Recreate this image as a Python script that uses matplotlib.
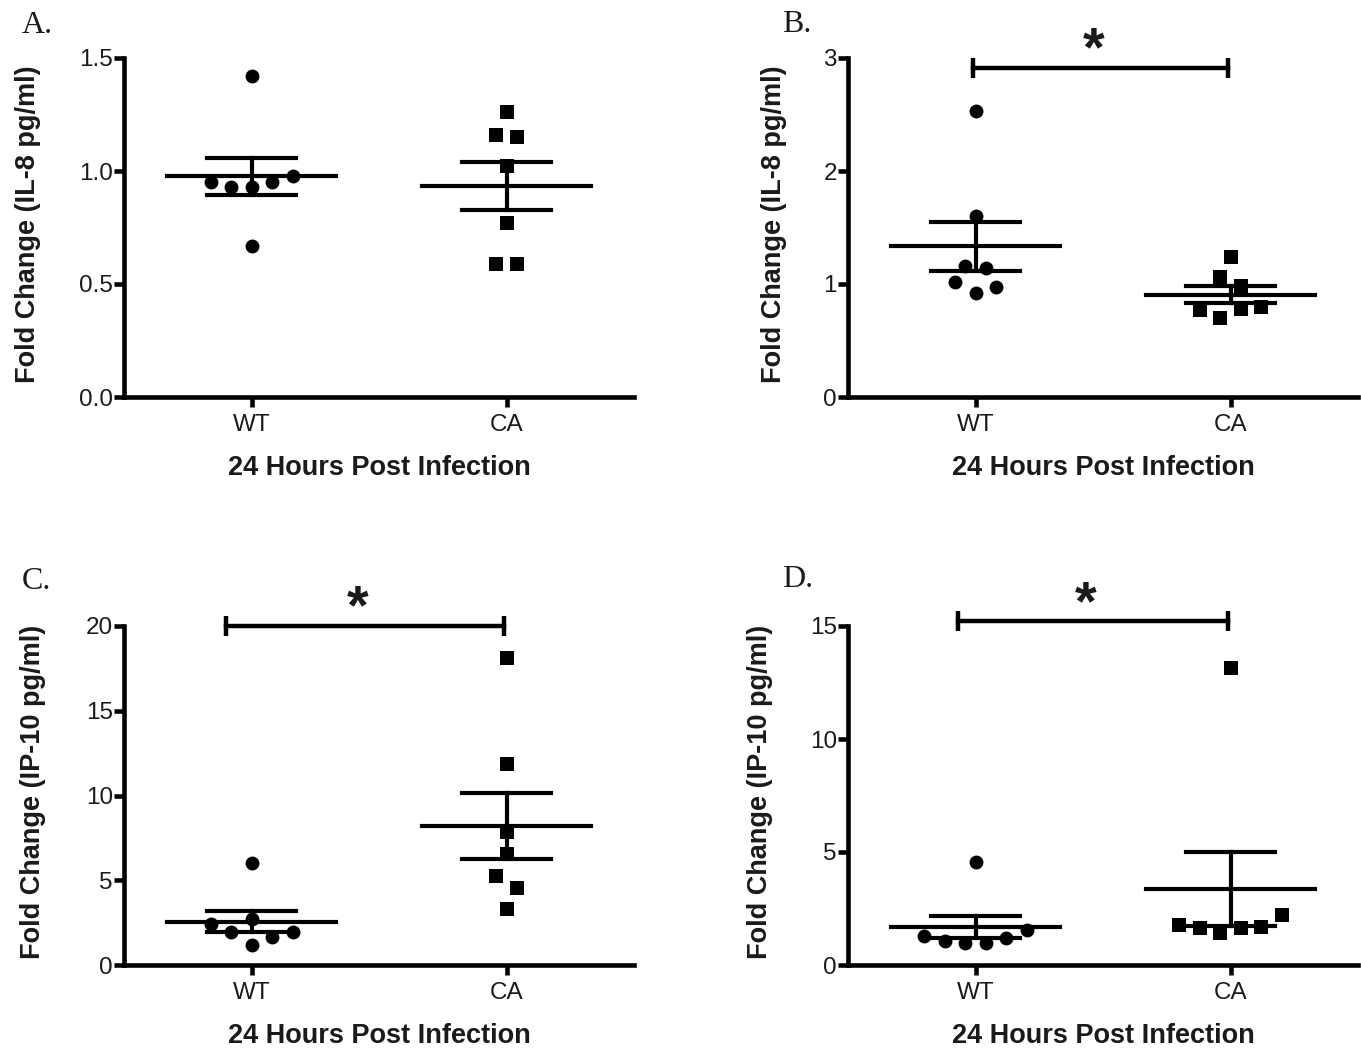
import numpy as np
import matplotlib
matplotlib.use("Agg")
import matplotlib.pyplot as plt

# values (fold change, 24 h post infection)
groups = ["WT", "CA"]
il8_a_wt = [1.42, 0.95, 0.93, 0.93, 0.95, 0.98, 0.67]
il8_a_ca = [1.26, 1.16, 1.15, 1.02, 0.77, 0.59, 0.59]
il8_b_wt = [2.53, 1.60, 1.16, 1.14, 1.02, 0.92, 0.97]
il8_b_ca = [1.24, 1.06, 0.98, 0.77, 0.70, 0.78, 0.80]
ip10_c_wt = [6.02, 2.70, 1.18, 1.95, 1.66, 2.41, 1.97]
ip10_c_ca = [18.09, 11.88, 7.83, 6.55, 5.27, 4.54, 3.30]
ip10_d_wt = [4.55, 1.30, 1.05, 0.98, 0.98, 1.20, 1.57]
ip10_d_ca = [13.16, 1.78, 1.63, 1.41, 1.63, 1.66, 2.21]

letters = ["A.", "B.", "C.", "D."]
ylabels = ["Fold Change (IL-8 pg/ml)", "Fold Change (IL-8 pg/ml)",
           "Fold Change (IP-10 pg/ml)", "Fold Change (IP-10 pg/ml)"]
yticks = [[0.0, 0.5, 1.0, 1.5], [0, 1, 2, 3], [0, 5, 10, 15, 20], [0, 5, 10, 15]]
ytick_fmt = ["{:.1f}", "{:d}", "{:d}", "{:d}"]
sig_bars = [None, (-0.01, 0.99, 2.91), (-0.1, 0.99, 20.0), (-0.07, 0.99, 15.2)]

W, H = 1361, 1053
fig = plt.figure(figsize=(W / 100, H / 100), dpi=100)

sans = ["Liberation Sans", "DejaVu Sans"]
serif = ["Liberation Serif", "DejaVu Serif"]
ink = "#1a1a1a"


def add_axes_px(left, top, w, h):
    return fig.add_axes([left / W, 1 - (top + h) / H, w / W, h / H])


def swarm(ax, vals, gap=13, row_span=20, d=15, step_px=20.5):
    # simple column-scatter layout: points close in y go side by side
    y = np.asarray(vals, float)
    py = ax.transData.transform(np.column_stack([np.zeros_like(y), y]))[:, 1]
    xs = ax.transData.transform([(0, 0), (1, 0)])[:, 0]
    step = step_px / (xs[1] - xs[0])
    order = np.argsort(-py, kind="stable")
    clusters, cur = [], [order[0]]
    for a, b in zip(order[:-1], order[1:]):
        if py[a] - py[b] < gap:
            cur.append(b)
        else:
            clusters.append(cur)
            cur = [b]
    clusters.append(cur)
    off = np.zeros(len(y))
    for c in clusters:
        c = sorted(c)
        if py[c].max() - py[c].min() <= row_span:
            off[c] = np.arange(len(c)) - (len(c) - 1) / 2
        else:
            placed = []
            for i in c:
                for k in [0, -1, 1, -2, 2, -3, 3, -4, 4]:
                    if all(not (off[j] == k and abs(py[j] - py[i]) < d) for j in placed):
                        break
                off[i] = k
                placed.append(i)
            off[c] -= (off[c].max() + off[c].min()) / 2
    return off * step


data = [(il8_a_wt, il8_a_ca), (il8_b_wt, il8_b_ca),
        (ip10_c_wt, ip10_c_ca), (ip10_d_wt, ip10_d_ca)]
boxes = [(124, 58), (848, 58), (124, 626), (848, 626)]
letter_pos = [(22, 33), (782, 32), (22, 589), (782, 587)]
ylabel_x = [-0.163, -0.12, -0.153, -0.148]

for k in range(4):
    left, top = boxes[k]
    ax = add_axes_px(left, top, 510, 339)
    ax.set_xlim(-0.5, 1.5)
    ax.set_ylim(yticks[k][0], yticks[k][-1])

    for gi, vals in enumerate(data[k]):
        off = swarm(ax, vals)
        ax.plot(gi + off, vals, linestyle="none", marker="o" if gi == 0 else "s",
                markersize=10, color="black", markeredgewidth=0, zorder=3,
                clip_on=False)
        m = np.mean(vals)
        se = np.std(vals, ddof=1) / np.sqrt(len(vals))
        ax.plot([gi - 0.333, gi + 0.333], [m, m], color="black", lw=3, zorder=4)
        ax.plot([gi, gi], [m - se, m + se], color="black", lw=3, zorder=4)
        for yy in (m - se, m + se):
            ax.plot([gi - 0.173, gi + 0.173], [yy, yy], color="black", lw=3, zorder=4)

    if sig_bars[k] is not None:
        x0, x1, yb = sig_bars[k]
        ax.plot([x0, x1], [yb, yb], color="black", lw=3.2, clip_on=False, zorder=4)
        ax.plot([x0, x1], [yb, yb], linestyle="none", marker="|", markersize=15,
                markeredgewidth=3.2, color="black", clip_on=False, zorder=4)
        ax.annotate("*", xy=((x0 + x1) / 2, yb), xytext=(-5, 12), textcoords="offset points",
                    ha="center", va="center", fontsize=40, fontweight="bold",
                    family=sans, color=ink, annotation_clip=False)

    for s in ["top", "right"]:
        ax.spines[s].set_visible(False)
    for s in ["left", "bottom"]:
        ax.spines[s].set_linewidth(3.3)
    ax.set_xticks([0, 1])
    ax.set_xticklabels(groups)
    ax.set_yticks(yticks[k])
    ax.set_yticklabels([ytick_fmt[k].format(v) for v in yticks[k]])
    ax.tick_params(axis="both", direction="out", length=7, width=3.3, color="black",
                   labelsize=17.5, labelcolor=ink)
    ax.tick_params(axis="y", pad=1)
    ax.tick_params(axis="x", pad=5)
    for lab in ax.get_xticklabels() + ax.get_yticklabels():
        lab.set_family(sans)

    ax.set_xlabel("24 Hours Post Infection", fontsize=19.5, fontweight="bold",
                  family=sans, color=ink, labelpad=14)
    ax.set_ylabel(ylabels[k], fontsize=19.5, fontweight="bold", family=sans, color=ink)
    ax.yaxis.set_label_coords(ylabel_x[k], 0.51)

    lx, ly = letter_pos[k]
    fig.text(lx / W, 1 - ly / H, letters[k], fontsize=23, family=serif,
             color=ink, va="baseline", ha="left")

fig.savefig("out.png", dpi=100)
